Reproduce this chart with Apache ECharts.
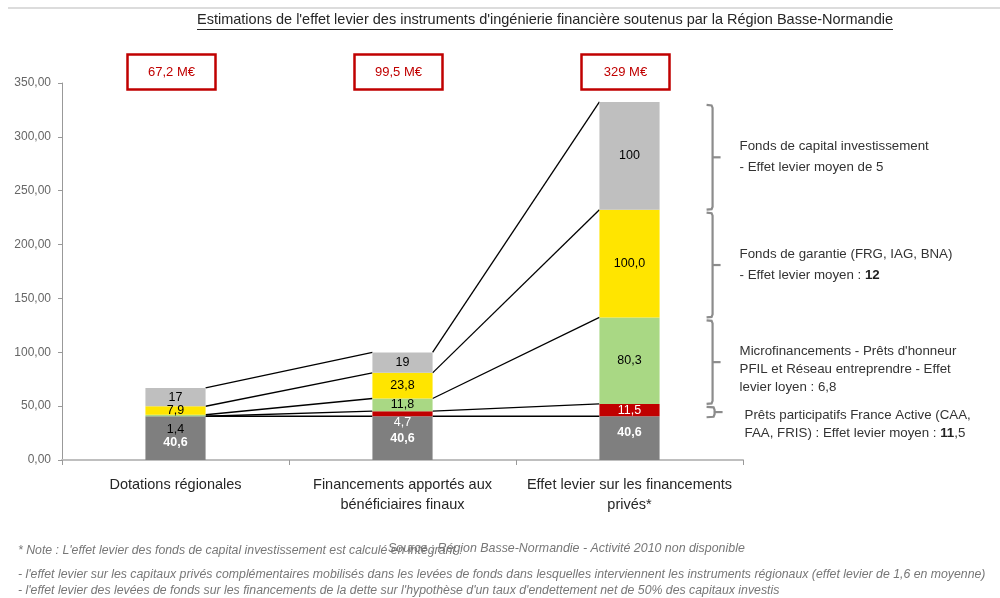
<!DOCTYPE html>
<html>
<head>
<meta charset="utf-8">
<script src="https://cdn.jsdelivr.net/npm/echarts@6/dist/echarts.min.js"></script>
<style>
  html, body { margin: 0; padding: 0; background: #fff; }
  #chart { width: 1000px; height: 598px; }
</style>
</head>
<body>
<div id="chart"></div>
<script>
// Categories and stacked segments (M€)
const categories = [
  'Dotations régionales',
  'Financements apportés aux\nbénéficiaires finaux',
  'Effet levier sur les financements\nprivés*'
];
const baseValues = [40.6, 40.6, 40.6];          // dotations
const participatifValues = [0, 4.7, 11.5];      // prêts participatifs
const microValues = [1.4, 11.8, 80.3];          // microfinancements
const garantieValues = [7.9, 23.8, 100.0];      // fonds de garantie
const capitalValues = [17, 19, 100];            // capital investissement
const totalLabels = ['67,2 M€', '99,5 M€', '329 M€'];

const segmentNotes = [
  ['Fonds de capital investissement', '- Effet levier moyen de 5'],
  ['Fonds de garantie (FRG, IAG, BNA)', '- Effet levier moyen : {b|12}'],
  ['Microfinancements - Prêts d\'honneur', 'PFIL et Réseau entreprendre - Effet', 'levier loyen : 6,8'],
  ['Prêts participatifs France Active (CAA,', 'FAA, FRIS) : Effet levier moyen : {b|11},5']
];

const titleText = 'Estimations de l\'effet levier des instruments d\'ingénierie financière soutenus par la Région Basse-Normandie';
const noteLines = [
  '* Note : L\'effet levier des fonds de capital investissement est calculé en intégrant :',
  '- l\'effet levier sur les capitaux privés complémentaires mobilisés dans les levées de fonds dans lesquelles interviennent les instruments régionaux (effet levier de 1,6 en moyenne)',
  '- l\'effet levier des levées de fonds sur les financements de la dette sur l\'hypothèse d\'un taux d\'endettement net de 50% des capitaux investis'
];
const sourceText = 'Source : Région Basse-Normandie - Activité 2010 non disponible';

const SANS = '"Liberation Sans", Arial, sans-serif';
const BAR_RATIO = 0.265;

const stackSeries = [baseValues, participatifValues, microValues, garantieValues, capitalValues];
// cumulative tops of each segment, per category
const levels = categories.map((_, i) => {
  let s = 0;
  return stackSeries.map(a => (s += a[i]));
});

const fmt1 = v => v.toFixed(1).replace('.', ',');
const fmt0 = v => String(Math.round(v));

function barSeries(name, values, color, labelColor, bold, format, offsets) {
  return {
    name, type: 'bar', stack: 'total', barWidth: (BAR_RATIO * 100) + '%',
    itemStyle: { color },
    data: values.map((v, i) => {
      const item = { value: v };
      if (offsets && offsets[i]) item.label = { offset: offsets[i] };
      return item;
    }),
    label: {
      show: true, position: 'inside', color: labelColor,
      fontFamily: SANS, fontSize: 12.5,
      fontWeight: bold ? 'bold' : 'normal',
      formatter: p => (p.value ? format(p.value) : '')
    }
  };
}

const chart = echarts.init(document.getElementById('chart'), null, { renderer: 'canvas' });

const option = {
  animation: false,
  grid: { left: 62, right: 257, top: 83, bottom: 138, containLabel: false },
  xAxis: {
    type: 'category', data: categories,
    axisLine: { lineStyle: { color: '#bfbfbf', width: 2 } },
    axisTick: { show: true, length: 5, lineStyle: { color: '#999' } },
    axisLabel: {
      interval: 0, margin: 15, color: '#262626', fontSize: 14.5, lineHeight: 20,
      fontFamily: SANS
    }
  },
  yAxis: {
    type: 'value', min: 0, max: 350, interval: 50,
    axisLine: { show: true, lineStyle: { color: '#999' } },
    axisTick: { show: true, length: 4, lineStyle: { color: '#999' } },
    splitLine: { show: false },
    axisLabel: {
      color: '#666', fontSize: 12, margin: 11,
      fontFamily: SANS,
      formatter: v => v.toFixed(2).replace('.', ',')
    }
  },
  series: [
    barSeries('Dotations', baseValues, '#7f7f7f', '#fff', true, fmt1, [[0, 4], null, [0, -6]]),
    barSeries('Prêts participatifs', participatifValues, '#c00000', '#fff', false, fmt1, [null, [0, 9], null]),
    barSeries('Microfinancements', microValues, '#a9d884', '#000', false, fmt1, [[0, 14], null, null]),
    barSeries('Fonds de garantie', garantieValues, '#ffe500', '#000', false, fmt1),
    barSeries('Capital investissement', capitalValues, '#bfbfbf', '#000', false, fmt0),
    {
      // connectors between the tops of matching segments
      type: 'custom', silent: true, clip: false,
      data: [[0], [1]],
      encode: { x: 0 },
      renderItem: (params, api) => {
        const i = api.value(0);
        const half = api.size([1, 0])[0] * BAR_RATIO / 2;
        return {
          type: 'group',
          children: levels[i].map((v, k) => {
            const a = api.coord([i, v]);
            const b = api.coord([i + 1, levels[i + 1][k]]);
            return {
              type: 'line',
              shape: { x1: a[0] + half, y1: a[1], x2: b[0] - half, y2: b[1] },
              style: { stroke: '#000', lineWidth: 1.3 }
            };
          })
        };
      }
    },
    {
      // totals in red boxes above each bar
      type: 'custom', silent: true, clip: false,
      data: [[0], [1], [2]],
      encode: { x: 0 },
      renderItem: (params, api) => {
        const i = api.value(0);
        const p = api.coord([i, 350]);
        const cx = p[0] - 4, cy = p[1] - 11;
        const w = 88, h = 35;
        return {
          type: 'group',
          children: [
            { type: 'rect', shape: { x: cx - w / 2, y: cy - h / 2, width: w, height: h },
              style: { fill: '#fff', stroke: '#c00000', lineWidth: 2.5 } },
            { type: 'text', style: { x: cx, y: cy, text: totalLabels[i], align: 'center', verticalAlign: 'middle',
              fill: '#c00000', font: '13px ' + SANS } }
          ]
        };
      }
    },
    {
      // braces and notes next to the last bar
      type: 'custom', silent: true, clip: false,
      data: [[2]],
      encode: { x: 0 },
      renderItem: (params, api) => {
        const i = api.value(0);
        const lv = levels[i];
        const half = api.size([1, 0])[0] * BAR_RATIO / 2;
        const x0 = api.coord([i, 0])[0] + half + 53;
        const children = [];
        // segments from top to bottom: capital, garantie, micro, participatif
        const bounds = [[lv[4], lv[3]], [lv[3], lv[2]], [lv[2], lv[1]], [lv[1], lv[0]]];
        bounds.forEach((bd, k) => {
          const yTop = api.coord([i, bd[0]])[1] + 3;
          const yBot = api.coord([i, bd[1]])[1] - (k === 3 ? -1 : 0);
          const yMid = (yTop + yBot) / 2;
          const hook = k === 3 ? 8 : 6;
          const xv = k === 3 ? x0 + 2 : x0;
          children.push({
            type: 'polyline',
            shape: { points: [[xv - hook, yTop], [xv - 1, yTop + 0.5], [xv, yTop + 3], [xv, yBot - 3], [xv - 1, yBot - 0.5], [xv - hook, yBot]] },
            style: { stroke: '#8c8c8c', lineWidth: 2.2, fill: null }
          });
          children.push({
            type: 'line',
            shape: { x1: xv, y1: yMid, x2: xv + 8, y2: yMid },
            style: { stroke: '#8c8c8c', lineWidth: 2.2 }
          });
          const lines = segmentNotes[k];
          const lh = k >= 2 ? 18 : 21;
          const yOff = k === 2 ? 7 : (k === 3 ? 12 : 0);
          children.push({
            type: 'text',
            style: {
              x: x0 + 27 + (k === 3 ? 5 : 0), y: yMid + yOff,
              text: lines.join('\n'),
              verticalAlign: 'middle', align: 'left',
              fill: '#333', font: '13.3px ' + SANS, lineHeight: lh,
              rich: { b: { fontWeight: 'bold', fontSize: 13.3, fontFamily: SANS, fill: '#222', lineHeight: lh } }
            }
          });
        });
        return { type: 'group', children };
      }
    }
  ],
  graphic: [
    { type: 'line', shape: { x1: 8, y1: 8, x2: 1000, y2: 8 }, style: { stroke: '#dcdcdc', lineWidth: 2 } },
    { type: 'text', x: 197, y: 12, style: { text: titleText, fill: '#262626', font: '14.5px ' + SANS } },
    { type: 'line', shape: { x1: 197, y1: 29.5, x2: 893, y2: 29.5 }, style: { stroke: '#262626', lineWidth: 1 } },
    { type: 'text', x: 388, y: 543, style: { text: sourceText, fill: '#777', font: 'italic 12.4px ' + SANS } },
    { type: 'text', x: 18, y: 545, style: { text: noteLines[0], fill: '#777', font: 'italic 12.3px ' + SANS } },
    { type: 'text', x: 18, y: 569, style: { text: noteLines[1], fill: '#777', font: 'italic 12.3px ' + SANS } },
    { type: 'text', x: 18, y: 585, style: { text: noteLines[2], fill: '#777', font: 'italic 12.3px ' + SANS } }
  ]
};

chart.setOption(option);
</script>
</body>
</html>
